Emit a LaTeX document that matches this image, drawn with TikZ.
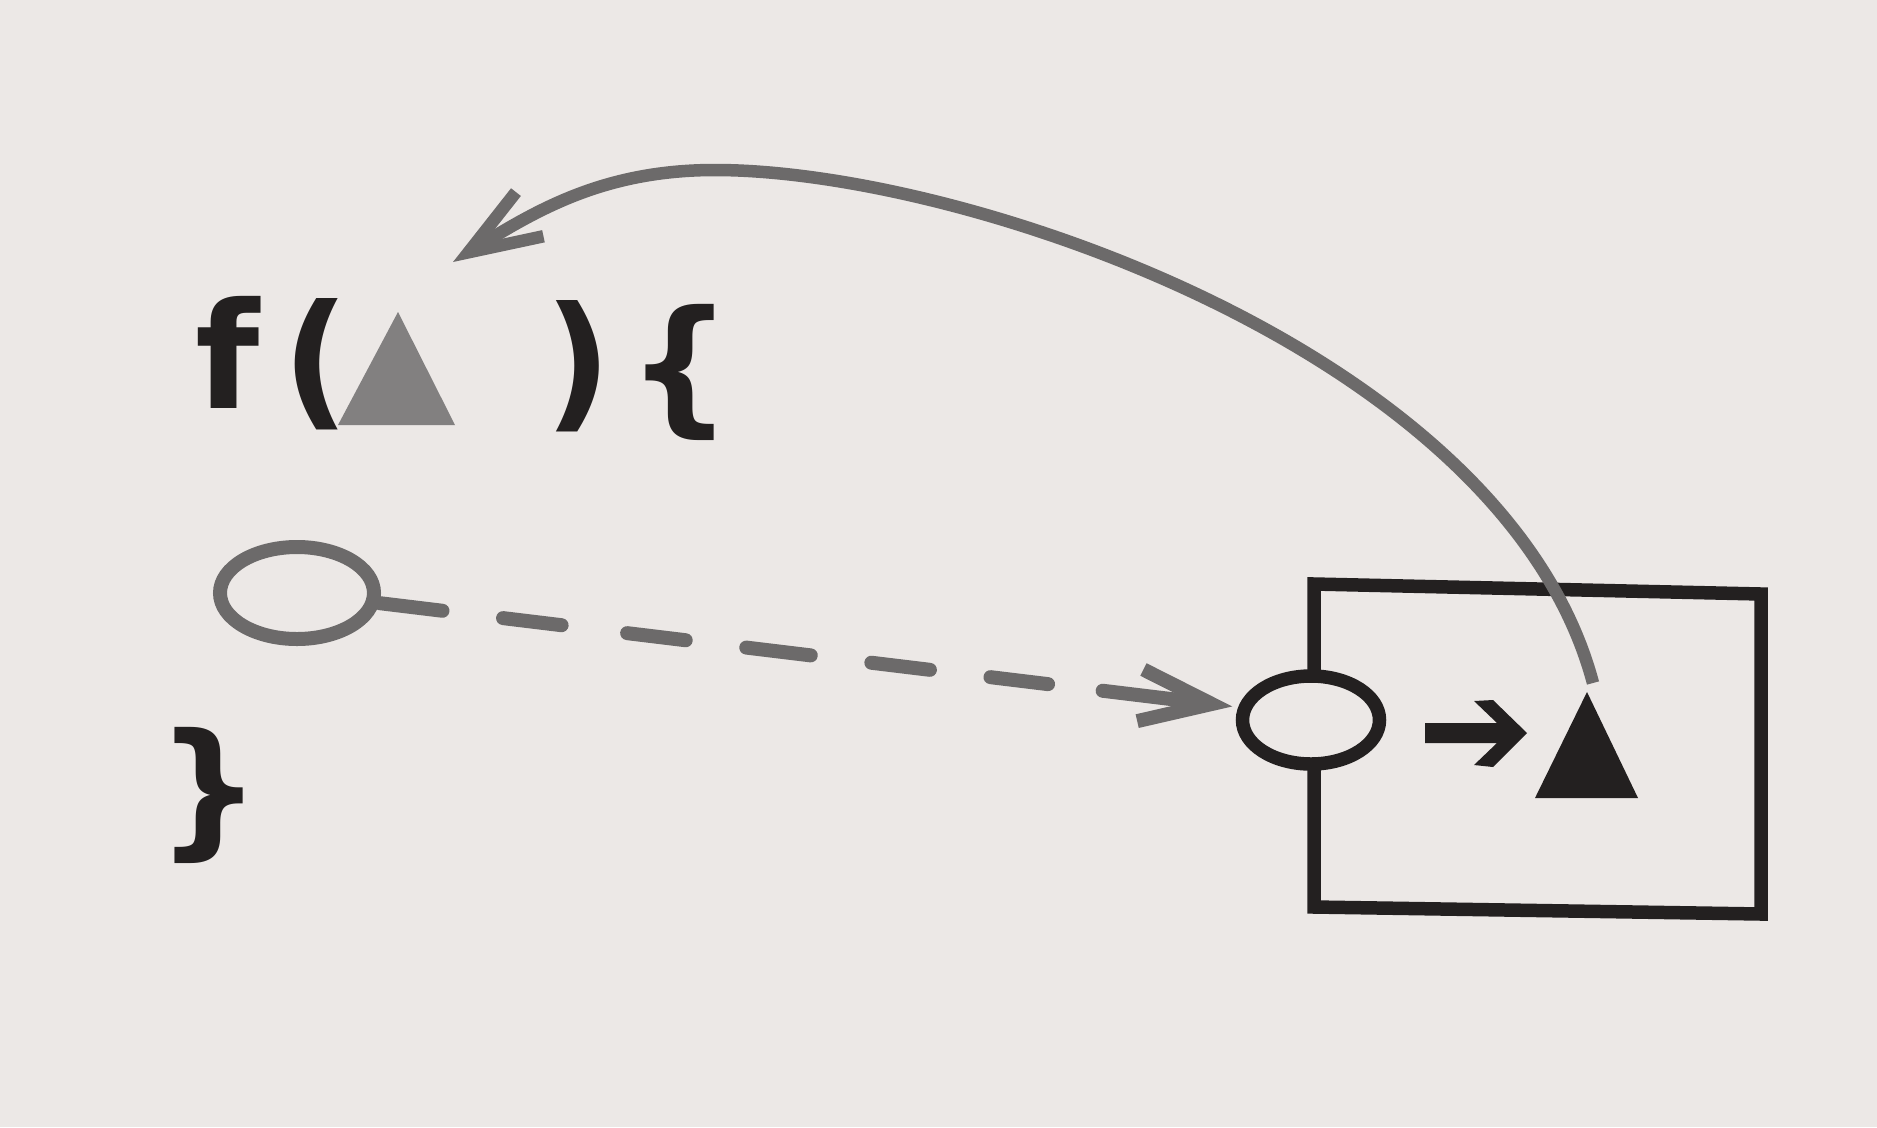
\documentclass[tikz,border=0pt]{standalone}
\usepackage{fontspec}
\setmainfont{DejaVu Sans}
\newfontfamily\codefont{DejaVu Sans}
\usetikzlibrary{arrows.meta,shapes.geometric}
\definecolor{paper}{RGB}{236,232,230}
\definecolor{ink}{RGB}{35,32,32}
\definecolor{halftone}{RGB}{108,106,106}
\definecolor{halftri}{RGB}{130,128,128}
\begin{document}
\begin{tikzpicture}[x=0.1mm,y=-0.1mm,
  glyph/.style={font=\codefont\fontsize{42pt}{50pt}\selectfont\bfseries, text=ink, inner sep=0pt, anchor=base},
  grayline/.style={draw=halftone, line width=1.4mm},
  inkline/.style={draw=ink, line width=1.35mm},
  barb/.style={-{Straight Barb[length=7.2mm,width=5.2mm,sharp]}},
  oval/.style={ellipse, inner sep=0pt}
]
\fill[paper] (0,0) rectangle (1877,1127);
\useasboundingbox (0,0) rectangle (1877,1127);

% code text
\node[glyph] (f) at (228,408) {f};
\node[glyph] (lp) at (316,410) {(};
\node[glyph] (rp) at (578,412) {)};
\node[glyph] (lb) at (680,416) {\{};
\node[glyph] (rb) at (209,839) {\}};

% grey parameter triangle
\coordinate (gA) at (398,312);
\coordinate (gB) at (455,425);
\coordinate (gC) at (338,425);
\fill[halftri] (gA) -- (gB) -- (gC) -- cycle;

% left (grey) oval
\node[oval, grayline, minimum width=15.4mm, minimum height=9.2mm] (oL) at (297,593) {};

% box
\coordinate (bTL) at (1314,584);
\coordinate (bTR) at (1761,594);
\coordinate (bBR) at (1761,914);
\coordinate (bBL) at (1314,907);
\draw[inkline, line join=miter] (bTL) -- (bTR) -- (bBR) -- (bBL) -- cycle;

% right (black) oval on the box edge
\node[oval, inkline, fill=paper, minimum width=13.7mm, minimum height=8.8mm] (oR) at (1311,720) {};

% small black arrow
\fill[ink] (1425,723) -- (1497,723) -- (1474,701) -- (1493,700) -- (1527,733)
  -- (1493,767) -- (1474,765) -- (1497,743) -- (1425,743) -- cycle;

% black triangle
\coordinate (kA) at (1587,692);
\coordinate (kB) at (1638,798);
\coordinate (kC) at (1535,798);
\fill[ink] (kA) -- (kB) -- (kC) -- cycle;

% dashed connector
\draw[grayline, line cap=round,
  dash pattern=on 6.35mm off 6.1mm on 5.9mm off 6.6mm on 5.9mm off 6.1mm on 6.5mm off 6.1mm on 5.9mm off 6.1mm on 5.8mm off 5.5mm on 20mm,
  barb, shorten >=0.6mm] (oL.-7) -- (oR.170);

% curved connector
\coordinate (cS) at (1593,683);
\coordinate (cP) at (715,170);
\coordinate (cE) at (453,262);
\draw[grayline, line width=1.25mm, barb] (cS) .. controls (1505,353) and (965,170) .. (cP)
  .. controls (605,170) and (538,209) .. (cE);
\end{tikzpicture}
\end{document}
